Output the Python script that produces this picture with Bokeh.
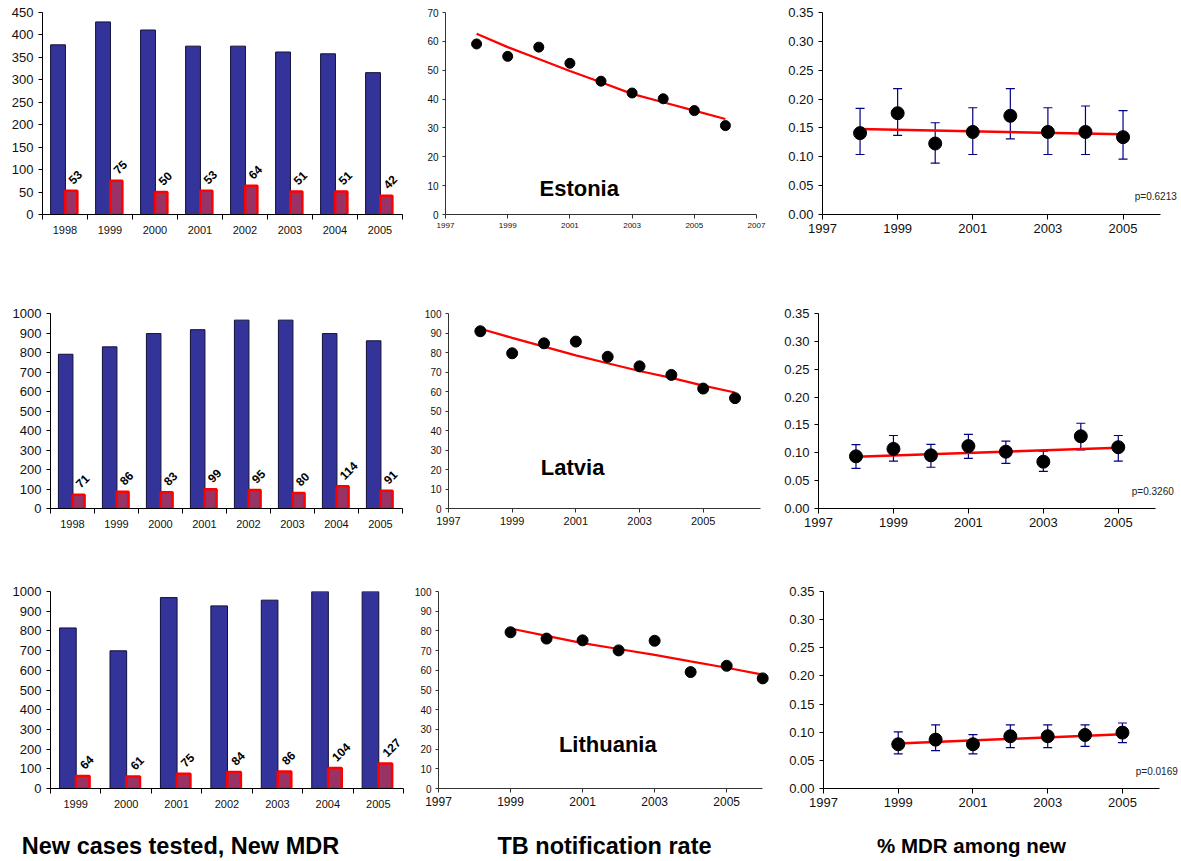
import math
from bokeh.plotting import figure
from bokeh.models import (Range1d, FixedTicker, Label, Whisker, TeeHead,
                          ColumnDataSource, PrintfTickFormatter)
from bokeh.layouts import column, row
from bokeh.core.properties import value
from bokeh.embed import file_html
from bokeh.resources import INLINE

FONT = "Liberation Sans"

# ---------------- data ----------------
est_bar_years = ["1998", "1999", "2000", "2001", "2002", "2003", "2004", "2005"]
est_tested = [378, 429, 411, 375, 375, 362, 358, 316]
est_mdr = [53, 75, 50, 53, 64, 51, 51, 42]

lat_bar_years = ["1998", "1999", "2000", "2001", "2002", "2003", "2004", "2005"]
lat_tested = [791, 829, 897, 917, 966, 966, 897, 860]
lat_mdr = [71, 86, 83, 99, 95, 80, 114, 91]

lit_bar_years = ["1999", "2000", "2001", "2002", "2003", "2004", "2005"]
lit_tested = [815, 699, 969, 927, 956, 1095, 1280]
lit_mdr = [64, 61, 75, 84, 86, 104, 127]

est_rate_years = [1998, 1999, 2000, 2001, 2002, 2003, 2004, 2005, 2006]
est_rate = [59.1, 54.8, 58.0, 52.4, 46.2, 42.1, 40.1, 36.0, 30.8]
est_rate_trend = [62.6, 58.0, 53.9, 49.7, 45.8, 41.8, 38.9, 36.0, 33.1]

lat_rate_years = [1998, 1999, 2000, 2001, 2002, 2003, 2004, 2005, 2006]
lat_rate = [90.9, 79.6, 84.7, 85.6, 77.8, 72.9, 68.5, 61.5, 56.6]
lat_rate_trend = [92.2, 87.5, 83.0, 78.5, 74.5, 70.5, 67.0, 63.0, 59.5]

lit_rate_years = [1999, 2000, 2001, 2002, 2003, 2004, 2005, 2006]
lit_rate = [79.3, 76.1, 75.2, 70.1, 75.0, 59.1, 62.3, 55.9]
lit_rate_trend = [81.2, 77.5, 73.8, 70.8, 67.8, 64.5, 61.3, 57.8]

est_pct_years = [1998, 1999, 2000, 2001, 2002, 2003, 2004, 2005]
est_pct = [0.141, 0.1755, 0.123, 0.143, 0.171, 0.143, 0.143, 0.134]
est_pct_hi = [0.184, 0.218, 0.159, 0.185, 0.218, 0.185, 0.188, 0.180]
est_pct_lo = [0.104, 0.137, 0.089, 0.104, 0.131, 0.104, 0.104, 0.096]
est_pct_trend_years = [1998, 2005]
est_pct_trend = [0.148, 0.139]
est_p = "p=0.6213"

lat_pct_years = [1998, 1999, 2000, 2001, 2002, 2003, 2004, 2005]
lat_pct = [0.0936, 0.107, 0.0954, 0.112, 0.102, 0.084, 0.1296, 0.110]
lat_pct_hi = [0.1146, 0.131, 0.115, 0.133, 0.121, 0.103, 0.153, 0.131]
lat_pct_lo = [0.072, 0.085, 0.074, 0.090, 0.081, 0.0666, 0.105, 0.085]
lat_pct_trend_years = [1998, 2005]
lat_pct_trend = [0.093, 0.109]
lat_p = "p=0.3260"

lit_pct_years = [1999, 2000, 2001, 2002, 2003, 2004, 2005]
lit_pct = [0.0786, 0.0868, 0.0786, 0.0928, 0.0928, 0.0951, 0.0993]
lit_pct_hi = [0.1005, 0.113, 0.0957, 0.113, 0.113, 0.113, 0.1164]
lit_pct_lo = [0.0615, 0.0674, 0.0615, 0.0727, 0.0727, 0.075, 0.0816]
lit_pct_trend_years = [1999, 2005]
lit_pct_trend = [0.0798, 0.0963]
lit_p = "p=0.0169"

countries = ["Estonia", "Latvia", "Lithuania"]
bottom_titles = ["New cases tested, New MDR", "TB notification rate", "% MDR among new"]


def base_fig(w, h, xr, yr, bl, br, bt, bb):
    p = figure(width=w, height=h, x_range=xr, y_range=yr,
               output_backend="svg", toolbar_location=None,
               min_border_left=bl, min_border_right=br,
               min_border_top=bt, min_border_bottom=bb)
    p.outline_line_color = None
    p.xgrid.grid_line_color = None
    p.ygrid.grid_line_color = None
    p.background_fill_color = "white"
    for ax in p.axis:
        ax.axis_line_color = "black"
        ax.major_tick_line_color = "black"
        ax.major_tick_in = 0
        ax.major_label_text_font = FONT
        ax.major_label_text_color = "#111111"
    return p


def bar_panel(cats, tested, mdr, ymax, ystep, w, h, bl, br, bt, bb):
    n = len(cats)
    centers = list(range(1, n + 1))
    p = base_fig(w, h, Range1d(0.5, n + 0.5), Range1d(0, ymax), bl, br, bt, bb)
    src = ColumnDataSource(dict(
        xb=[c - 0.155 for c in centers], xr=[c + 0.14 for c in centers],
        tested=tested, mdr=mdr, lab=[str(v) for v in mdr]))
    p.vbar(x="xb", top="tested", width=0.33, fill_color="#333399",
           line_color="#10103a", line_width=1, source=src)
    p.vbar(x="xr", top="mdr", width=0.27, fill_color="#993366",
           line_color="#ff0000", line_width=2.5, source=src)
    p.text(x="xr", y="mdr", text="lab", angle=math.pi / 4,
           text_font=value(FONT), text_font_style="bold", text_font_size="12px",
           text_align="left", text_baseline="alphabetic", text_color="black",
           x_offset=-1, y_offset=-9, source=src)
    p.xaxis.ticker = FixedTicker(ticks=centers,
                                 minor_ticks=[c - 0.5 for c in centers] + [n + 0.5])
    p.xaxis.major_label_overrides = {c: cat for c, cat in zip(centers, cats)}
    p.xaxis.major_tick_line_color = None
    p.xaxis.major_tick_out = 0
    p.xaxis.minor_tick_in = 0
    p.xaxis.minor_tick_out = 5
    p.xaxis.minor_tick_line_color = "black"
    p.xaxis.major_label_standoff = 6
    p.xaxis.major_label_text_font_size = "11px"
    p.yaxis.ticker = FixedTicker(ticks=list(range(0, ymax + 1, ystep)))
    p.yaxis.major_tick_out = 4
    p.yaxis.major_label_standoff = 5
    p.yaxis.major_label_text_font_size = "13px"
    return p


def rate_panel(years, rate, trend, country, cx, cy, xend, xbound, xtick_size, msize,
               w, h, bl, br, bt, bb):
    ymax = 100 if max(rate) > 70 else 70
    p = base_fig(w, h, Range1d(1997, xend), Range1d(0, ymax), bl, br, bt, bb)
    p.line(years, trend, line_color="#ff0000", line_width=2.2)
    p.scatter(years, rate, size=msize, fill_color="black", line_color="black")
    p.xaxis.ticker = FixedTicker(ticks=[1997, 1999, 2001, 2003, 2005, 2007])
    p.xaxis.bounds = (1997, xbound)
    p.xaxis.major_tick_out = 4
    p.xaxis.major_label_standoff = 4
    p.xaxis.major_label_text_font_size = xtick_size
    p.yaxis.ticker = FixedTicker(ticks=list(range(0, ymax + 1, 10)))
    p.yaxis.major_tick_out = 3
    p.yaxis.major_label_standoff = 4
    p.yaxis.major_label_text_font_size = "10px"
    for ax in p.axis:
        ax.axis_line_color = "#333333"
        ax.major_tick_line_color = "#333333"
    p.add_layout(Label(x=cx, y=cy, text=country, text_align="center",
                       text_baseline="middle", text_font=FONT,
                       text_font_style="bold", text_font_size="22px",
                       text_color="black"))
    return p


def pct_panel(years, pct, hi, lo, tyears, trend, ptext, xend,
              w, h, bl, br, bt, bb):
    p = base_fig(w, h, Range1d(1997, xend), Range1d(0, 0.35), bl, br, bt, bb)
    src = ColumnDataSource(dict(x=years, y=pct, hi=hi, lo=lo))
    wk = Whisker(source=src, base="x", upper="hi", lower="lo",
                 line_color="#000080", line_width=1.2, level="underlay",
                 upper_head=TeeHead(size=9, line_color="#000080", line_width=1.2),
                 lower_head=TeeHead(size=9, line_color="#000080", line_width=1.2))
    p.add_layout(wk)
    p.line(tyears, trend, line_color="#ff0000", line_width=2.5)
    p.scatter("x", "y", size=13, fill_color="black", line_color="black", source=src)
    p.xaxis.ticker = FixedTicker(ticks=[1997, 1999, 2001, 2003, 2005])
    p.xaxis.bounds = (1997, 2006)
    p.xaxis.major_tick_out = 5
    p.xaxis.major_label_standoff = 4
    p.xaxis.major_label_text_font_size = "13px"
    p.yaxis.ticker = FixedTicker(ticks=[round(0.05 * i, 2) for i in range(8)])
    p.yaxis.formatter = PrintfTickFormatter(format="%.2f")
    p.yaxis.major_tick_out = 4
    p.yaxis.major_label_standoff = 5
    p.yaxis.major_label_text_font_size = "13px"
    p.add_layout(Label(x=xend - 0.02, y=0.031, text=ptext, text_align="right",
                       text_baseline="middle", text_font=FONT,
                       text_font_size="10px", text_color="#222222"))
    return p


# Row 1 (Estonia)
pA = bar_panel(est_bar_years, est_tested, est_mdr, 450, 50, 420, 260, 42, 18, 12, 46)
pB = rate_panel(est_rate_years, est_rate, est_rate_trend, countries[0], 2001.3, 9.0,
                2007, 2007, "8px", 10, 355, 260, 25, 19, 12, 46)
pC = pct_panel(est_pct_years, est_pct, est_pct_hi, est_pct_lo,
               est_pct_trend_years, est_pct_trend, est_p, 2006.45,
               406, 260, 47, 4, 12, 46)

# Row 2 (Latvia)
pD = bar_panel(lat_bar_years, lat_tested, lat_mdr, 1000, 100, 410, 285, 50, 8, 44, 37)
pE = rate_panel(lat_rate_years, lat_rate, lat_rate_trend, countries[1], 2000.9, 21.1,
                2006.8, 2006.8, "11px", 11, 365, 285, 38, 15, 44, 37)
pF = pct_panel(lat_pct_years, lat_pct, lat_pct_hi, lat_pct_lo,
               lat_pct_trend_years, lat_pct_trend, lat_p, 2006.5,
               406, 285, 43, 7, 53, 37)

# Row 3 (Lithuania)
pG = bar_panel(lit_bar_years, lit_tested, lit_mdr, 1000, 100, 405, 275, 50, 2, 44, 26)
pH = rate_panel(lit_rate_years, lit_rate, lit_rate_trend, countries[2], 2001.7, 22.5,
                2006.3, 2006, "12px", 11, 370, 275, 33, 2, 35, 31)
pI = pct_panel(lit_pct_years, lit_pct, lit_pct_hi, lit_pct_lo,
               lit_pct_trend_years, lit_pct_trend, lit_p, 2006.5,
               406, 275, 48, 3, 46, 32)

# Bottom titles
pT = figure(width=1181, height=41, x_range=Range1d(0, 1181), y_range=Range1d(0, 41),
            output_backend="svg", toolbar_location=None, min_border=0)
pT.axis.visible = False
pT.xgrid.grid_line_color = None
pT.ygrid.grid_line_color = None
pT.outline_line_color = None
for tx, cxp, fs in zip(bottom_titles, [180, 604, 971], ["23.5px", "23.5px", "20.5px"]):
    pT.add_layout(Label(x=cxp, y=16, text=tx, text_align="center",
                        text_baseline="middle", text_font=FONT,
                        text_font_style="bold", text_font_size=fs,
                        text_color="black"))

layout = column(row(pA, pB, pC), row(pD, pE, pF), row(pG, pH, pI), pT)

with open("out.html", "w") as f:
    f.write(file_html(layout, INLINE))
